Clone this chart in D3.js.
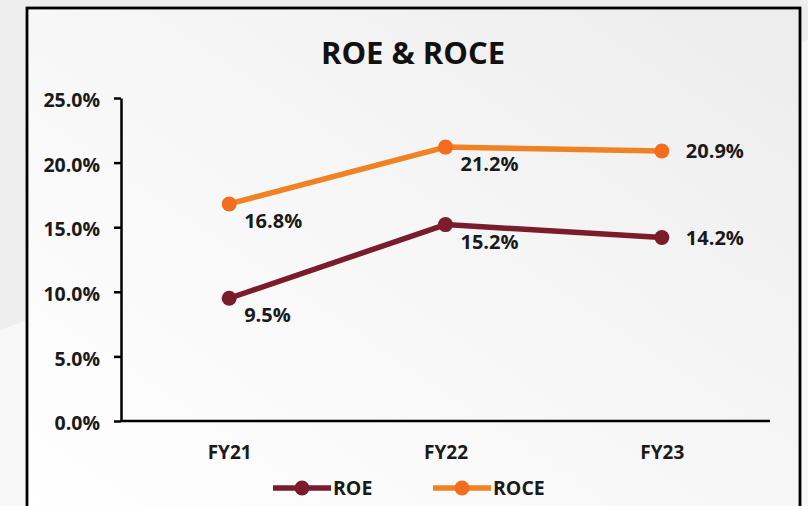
<!DOCTYPE html>
<html>
<head>
<meta charset="utf-8">
<style>
body, html {
  margin: 0;
  padding: 0;
  background: #f2f2f2;
  font-family: "Open Sans", sans-serif;
}
.axis path, .axis line {
  stroke: #000;
  stroke-width: 2.5;
}
.axis text {
  font-family: "Open Sans", sans-serif;
  font-weight: bold;
  font-size: 19.5px;
  fill: #1a1a1a;
}
.lbl {
  font-weight: bold;
  font-size: 20px;
  fill: #1a1a1a;
}
</style>
<script src="https://d3js.org/d3.v7.min.js"></script>
</head>
<body>
<script>

var categories = ["FY21", "FY22", "FY23"];
var roe  = [9.5, 15.2, 14.2];
var roce = [16.8, 21.2, 20.9];
var yTicks = [0, 5, 10, 15, 20, 25];

var series = [
  {name: "ROE",  values: roe,  line: "#7a1c2c", dot: "#7a1c2c"},
  {name: "ROCE", values: roce, line: "#f08224", dot: "#f26d1e"}
];

var width = 808, height = 506;
var margin = {left: 121, right: 38, top: 98, bottom: 85};

var svg = d3.select("body").append("svg")
    .attr("width", width)
    .attr("height", height);

// background
var defs = svg.append("defs");
var grad = defs.append("linearGradient").attr("id", "bg")
    .attr("x1", "100%").attr("y1", "0%").attr("x2", "0%").attr("y2", "100%");
grad.append("stop").attr("offset", "0%").attr("stop-color", "#ececec");
grad.append("stop").attr("offset", "45%").attr("stop-color", "#f6f6f6");
grad.append("stop").attr("offset", "100%").attr("stop-color", "#ffffff");

svg.append("rect").attr("width", width).attr("height", height).attr("fill", "#eeeeee");
svg.append("path")
    .attr("d", "M0,330 L808,40 L808,506 L0,506 Z")
    .attr("fill", "#f8f8f8");

// frame
svg.append("rect")
    .attr("x", 27).attr("y", 8)
    .attr("width", 773).attr("height", 520)
    .attr("fill", "url(#bg)")
    .attr("stroke", "#000")
    .attr("stroke-width", 2.8);

var x = d3.scalePoint()
    .domain(categories)
    .range([margin.left, width - margin.right])
    .padding(0.5);

var y = d3.scaleLinear()
    .domain([0, 25])
    .range([height - margin.bottom, margin.top]);

// title
svg.append("text")
    .attr("x", 413).attr("y", 64)
    .attr("text-anchor", "middle")
    .style("font-weight", "bold")
    .style("font-size", "31px")
    .style("fill", "#111")
    .text("ROE & ROCE");

// y axis
svg.append("g")
    .attr("class", "axis")
    .attr("transform", "translate(" + margin.left + ",0)")
    .call(d3.axisLeft(y).tickValues(yTicks).tickSize(7).tickSizeOuter(0).tickPadding(14)
      .tickFormat(function(d) { return d.toFixed(1) + "%"; }))
    .selectAll("text").attr("dy", "0.45em");

// x axis
var xa = svg.append("g")
    .attr("class", "axis")
    .attr("transform", "translate(0," + y(0) + ")")
    .call(d3.axisBottom(x).tickSize(0).tickSizeOuter(0).tickPadding(25));
xa.select("path.domain").attr("d", "M" + margin.left + ",0H" + (width - margin.right));
xa.selectAll("text").style("font-size", "19px");

var line = d3.line()
    .x(function(d, i) { return x(categories[i]); })
    .y(function(d) { return y(d); });

series.forEach(function(s) {
  svg.append("path")
      .datum(s.values)
      .attr("fill", "none")
      .attr("stroke", s.line)
      .attr("stroke-width", 5.5)
      .attr("stroke-linejoin", "round")
      .attr("d", line);

  svg.selectAll(null)
      .data(s.values)
      .enter().append("circle")
      .attr("cx", function(d, i) { return x(categories[i]); })
      .attr("cy", function(d) { return y(d); })
      .attr("r", 7.5)
      .attr("fill", s.dot);

  // labels: last point to the right, others below-right
  svg.selectAll(null)
      .data(s.values)
      .enter().append("text")
      .attr("class", "lbl")
      .attr("x", function(d, i) {
        return x(categories[i]) + (i === s.values.length - 1 ? 24 : 15);
      })
      .attr("y", function(d, i) {
        return y(d) + (i === s.values.length - 1 ? 7 : 24);
      })
      .text(function(d) { return d.toFixed(1) + "%"; });
});

// legend
var legend = svg.append("g").attr("transform", "translate(273,488)");
var legX = [0, 160];
series.forEach(function(s, i) {
  var g = legend.append("g").attr("transform", "translate(" + legX[i] + ",0)");
  g.append("line")
      .attr("x1", 0).attr("x2", 58)
      .attr("stroke", s.line).attr("stroke-width", 5.5);
  g.append("circle").attr("cx", 29).attr("r", 7.5).attr("fill", s.dot);
  g.append("text")
      .attr("x", 60).attr("y", 7)
      .style("font-weight", "bold")
      .style("font-size", "19.5px")
      .style("fill", "#1a1a1a")
      .text(s.name);
});

</script>
</body>
</html>
